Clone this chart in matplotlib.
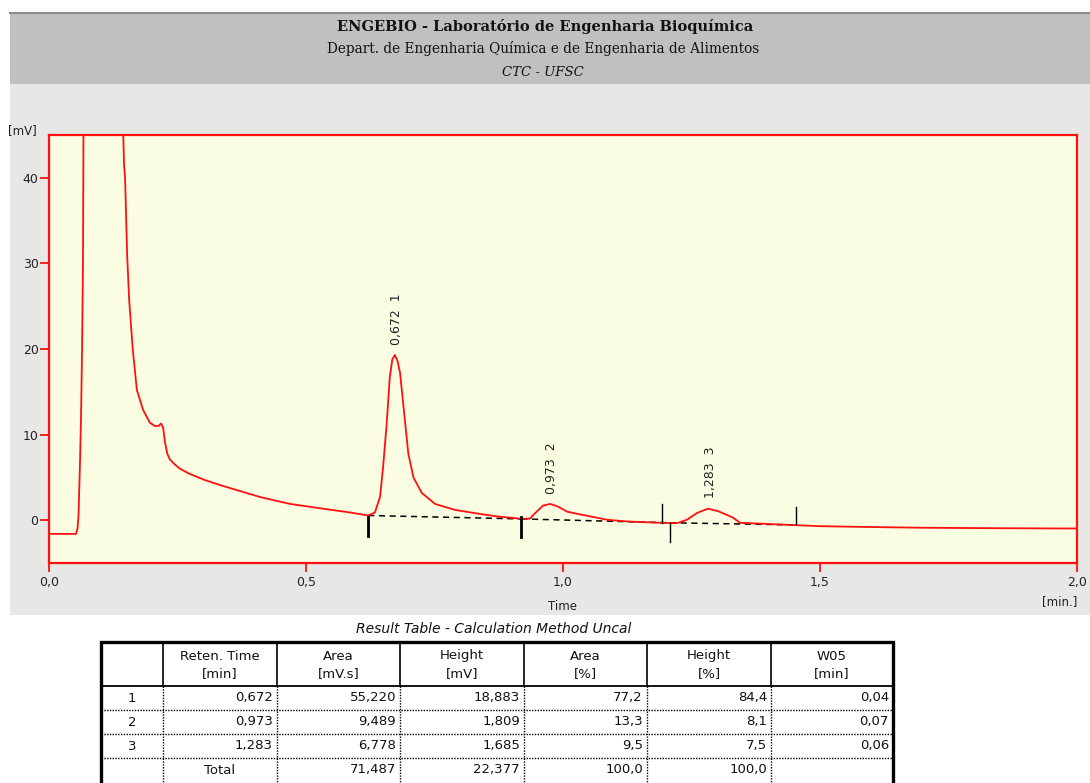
import matplotlib
matplotlib.use("Agg")
import matplotlib.pyplot as plt
from matplotlib.patches import Rectangle
from matplotlib.ticker import FuncFormatter, FixedLocator

# ---------------- data ----------------
time_min = [0.000, 0.030, 0.0525, 0.0555, 0.0574, 0.0584, 0.0603, 0.0623, 0.0642,
            0.0661, 0.0671, 0.068, 0.142, 0.1440, 0.1445, 0.146, 0.148, 0.152,
            0.156, 0.163, 0.171, 0.183, 0.196, 0.206, 0.213, 0.218, 0.222, 0.226,
            0.230, 0.235, 0.245, 0.255, 0.274, 0.303, 0.333, 0.372, 0.411, 0.469,
            0.527, 0.586, 0.621, 0.634, 0.644, 0.650, 0.657, 0.663, 0.668, 0.673,
            0.678, 0.683, 0.691, 0.699, 0.709, 0.725, 0.751, 0.790, 0.842, 0.877,
            0.905, 0.919, 0.936, 0.942, 0.961, 0.975, 0.990, 1.008, 1.027, 1.053,
            1.086, 1.125, 1.189, 1.222, 1.241, 1.261, 1.282, 1.302, 1.331, 1.344,
            1.383, 1.440, 1.500, 1.600, 1.700, 1.800, 1.900, 2.000]
signal_mv = [-1.6, -1.6, -1.6, -1.0, 0.5, 2.7, 6.7, 12.0, 19.5,
             30.0, 46.0, 60.0, 60.0, 60.0, 45.0, 41.5, 40.0, 31.0,
             25.7, 19.9, 15.2, 12.9, 11.4, 11.0, 11.0, 11.3, 10.8, 9.0,
             7.8, 7.1, 6.5, 6.0, 5.4, 4.7, 4.1, 3.4, 2.7, 1.9,
             1.4, 0.9, 0.55, 0.9, 2.7, 6.2, 11.3, 16.7, 18.8, 19.3,
             18.6, 17.2, 12.5, 7.8, 5.0, 3.2, 1.9, 1.2, 0.7, 0.4,
             0.25, 0.15, 0.2, 0.6, 1.7, 1.9, 1.6, 1.0, 0.75, 0.45,
             0.05, -0.15, -0.3, -0.35, 0.05, 0.85, 1.35, 1.05, 0.3, -0.3,
             -0.4, -0.55, -0.7, -0.8, -0.88, -0.92, -0.95, -0.97]

peak_no = [1, 2, 3]
peak_rt = [0.672, 0.973, 1.283]
peak_apex = [19.3, 1.9, 1.4]

# integration baselines (start, end) and marker ticks
base_x = [(0.621, 0.919), (0.919, 1.208), (1.208, 1.453)]
base_y = [(0.55, 0.15), (0.15, -0.3), (-0.3, -0.55)]
mark_x = [0.621, 0.919, 1.193, 1.208, 1.453]
mark_lo = [-1.8, -2.0, -0.3, -2.5, -0.4]
mark_hi = [0.4, 0.4, 1.9, -0.3, 1.6]
mark_lw = [2.0, 2.0, 1.0, 1.0, 1.0]

x_ticks = [0.0, 0.5, 1.0, 1.5, 2.0]
y_ticks = [0, 10, 20, 30, 40]

# result table
tbl_ret = [0.672, 0.973, 1.283]
tbl_area = [55.220, 9.489, 6.778]
tbl_height = [18.883, 1.809, 1.685]
tbl_area_pct = [77.2, 13.3, 9.5]
tbl_height_pct = [84.4, 8.1, 7.5]
tbl_w05 = [0.04, 0.07, 0.06]
tot_area = 71.487
tot_height = 22.377
tot_area_pct = 100.0
tot_height_pct = 100.0
col_head1 = ["", "Reten. Time", "Area", "Height", "Area", "Height", "W05"]
col_head2 = ["", "[min]", "[mV.s]", "[mV]", "[%]", "[%]", "[min]"]


def comma(v, nd):
    return f"{v:.{nd}f}".replace(".", ",")


W, H = 1090, 783
fig = plt.figure(figsize=(W / 100, H / 100), dpi=100, facecolor="white")

# background / page layout layer in pixel coordinates
bg = fig.add_axes([0, 0, 1, 1], zorder=0)
bg.set_xlim(0, W)
bg.set_ylim(H, 0)
bg.axis("off")
bg.add_patch(Rectangle((10, 84), W - 10, 531, facecolor="#e7e7e5", edgecolor="none"))
bg.add_patch(Rectangle((10, 14), W - 10, 70, facecolor="#c0c0c0", edgecolor="none"))
bg.plot([10, W], [13, 13], color="#8c8c8c", lw=1.5)

serif = ["DejaVu Serif"]
bg.text(545, 27, "ENGEBIO - Laboratório de Engenharia Bioquímica", ha="center", va="center",
        fontsize=10.5, fontweight="bold", family=serif, color="#111111")
bg.text(543, 48, "Depart. de Engenharia Química e de Engenharia de Alimentos", ha="center",
        va="center", fontsize=9.8, family=serif, color="#111111")
bg.text(543, 72, "CTC - UFSC", ha="center", va="center", fontsize=9.5, style="italic",
        family=serif, color="#111111")

sans = ["DejaVu Sans"]
bg.text(8, 131, "[mV]", ha="left", va="center", fontsize=8.5, family=sans, color="#222222")
bg.text(563, 606, "Time", ha="center", va="center", fontsize=8.5, family=sans, color="#222222")
bg.text(1060, 602, "[min.]", ha="center", va="center", fontsize=8.5, family=sans, color="#222222")

# ---------------- chromatogram axes ----------------
red = "#ff1010"
ax = fig.add_axes([49 / W, 1 - 563 / H, 1028 / W, 428 / H], zorder=1)
ax.set_facecolor("#fbfde2")
ax.set_xlim(0, 2.0)
ax.set_ylim(-5, 45)
for s in ax.spines.values():
    s.set_color(red)
    s.set_linewidth(1.6)

ax.plot(time_min, signal_mv, color=red, lw=1.3, zorder=3)

for (x0, x1), (y0, y1) in zip(base_x, base_y):
    ax.plot([x0, x1], [y0, y1], color="black", lw=1.1, ls=(0, (4, 3)), zorder=2)
for x, lo, hi, lw in zip(mark_x, mark_lo, mark_hi, mark_lw):
    ax.plot([x, x], [lo, hi], color="black", lw=lw, zorder=4)

for n, rt, ap in zip(peak_no, peak_rt, peak_apex):
    ax.annotate(f"{comma(rt, 3)}  {n}", xy=(rt, ap), xytext=(1.5, 7), textcoords="offset points",
                rotation=90, ha="center", va="bottom", fontsize=9, family=sans, color="#222222")

ax.xaxis.set_major_locator(FixedLocator(x_ticks))
ax.yaxis.set_major_locator(FixedLocator(y_ticks))
ax.xaxis.set_major_formatter(FuncFormatter(lambda v, p: comma(v, 1)))
ax.yaxis.set_major_formatter(FuncFormatter(lambda v, p: f"{int(round(v))}"))
ax.tick_params(axis="both", colors=red, length=6.5, width=1.3, labelcolor="#222222",
               labelsize=9)
ax.tick_params(axis="y", pad=1)
ax.tick_params(axis="x", pad=3)
for lab in ax.get_xticklabels() + ax.get_yticklabels():
    lab.set_family(sans)

# ---------------- result table ----------------
bg.text(494, 629, "Result Table - Calculation Method Uncal", ha="center", va="center",
        fontsize=10, style="italic", family=sans, color="#111111")
cols = [101, 163, 277, 400, 524, 647, 771, 893]
top, head_bot = 642, 686
row_lines = [710, 734, 758]
row_mid = [698, 722, 746, 770]
bottom = 795

bg.add_patch(Rectangle((cols[0], top), cols[-1] - cols[0], bottom - top, facecolor="white",
                       edgecolor="black", lw=2.4, zorder=2))
for cx in cols[1:-1]:
    bg.plot([cx, cx], [top, head_bot], color="black", lw=1.2, zorder=3)
    bg.plot([cx, cx], [head_bot, bottom], color="black", lw=1.0, ls=(0, (1, 1)), zorder=3)
bg.plot([cols[0], cols[-1]], [head_bot, head_bot], color="black", lw=1.3, zorder=3)
for ry in row_lines:
    bg.plot([cols[0], cols[-1]], [ry, ry], color="black", lw=1.0, ls=(0, (1, 1)), zorder=3)

tfs = 9.5
for i in range(1, 7):
    cx = (cols[i] + cols[i + 1]) / 2
    bg.text(cx, 656, col_head1[i], ha="center", va="center", fontsize=tfs, family=sans,
            color="#111111", zorder=4)
    bg.text(cx, 674, col_head2[i], ha="center", va="center", fontsize=tfs, family=sans,
            color="#111111", zorder=4)

for r in range(3):
    y = row_mid[r]
    vals = [comma(tbl_ret[r], 3), comma(tbl_area[r], 3), comma(tbl_height[r], 3),
            comma(tbl_area_pct[r], 1), comma(tbl_height_pct[r], 1), comma(tbl_w05[r], 2)]
    bg.text((cols[0] + cols[1]) / 2, y, str(peak_no[r]), ha="center", va="center",
            fontsize=tfs, family=sans, color="#111111", zorder=4)
    for c, v in enumerate(vals):
        bg.text(cols[c + 2] - 4, y, v, ha="right", va="center", fontsize=tfs, family=sans,
                color="#111111", zorder=4)

y = row_mid[3]
bg.text((cols[1] + cols[2]) / 2, y, "Total", ha="center", va="center", fontsize=tfs,
        family=sans, color="#111111", zorder=4)
for c, v in enumerate([comma(tot_area, 3), comma(tot_height, 3), comma(tot_area_pct, 1),
                       comma(tot_height_pct, 1)]):
    bg.text(cols[c + 3] - 4, y, v, ha="right", va="center", fontsize=tfs, family=sans,
            color="#111111", zorder=4)

fig.savefig("out.png", dpi=100, facecolor=fig.get_facecolor())
